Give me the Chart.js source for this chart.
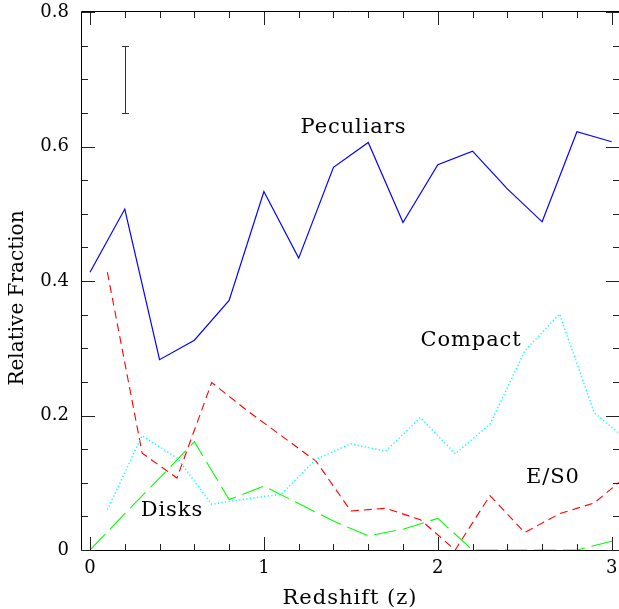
<!DOCTYPE html>
<html><head><meta charset="utf-8">
<script src="https://cdn.jsdelivr.net/npm/chart.js@4.4.0/dist/chart.umd.min.js"></script>
<style>html,body{margin:0;padding:0;background:#fff;} canvas{display:block;}</style>
</head><body>
<canvas id="c" width="619" height="609"></canvas>
<script>
// ---- data ----
const xEven = [0, 0.2, 0.4, 0.6, 0.8, 1.0, 1.2, 1.4, 1.6, 1.8, 2.0, 2.2, 2.4, 2.6, 2.8, 3.0];
const peculiars = [0.413, 0.507, 0.283, 0.312, 0.371, 0.533, 0.434, 0.569, 0.606, 0.487, 0.573, 0.593, 0.537, 0.488, 0.622, 0.607];

const xDisks = [0, 0.2, 0.4, 0.6, 0.8, 1.0, 1.2, 1.4, 1.6, 1.8, 2.0, 2.2, 2.4, 2.6, 2.8, 3.0, 3.1];
const disks = [0, 0.054, 0.107, 0.161, 0.075, 0.095, 0.069, 0.043, 0.021, 0.031, 0.047, 0, 0, 0, 0, 0.013, 0.02];

const xOdd = [0.1, 0.3, 0.5, 0.7, 0.9, 1.1, 1.3, 1.5, 1.7, 1.9, 2.1, 2.3, 2.5, 2.7, 2.9, 3.1];
const compact = [0.06, 0.17, 0.137, 0.068, 0.076, 0.083, 0.135, 0.158, 0.147, 0.197, 0.143, 0.187, 0.296, 0.351, 0.204, 0.161];
const es0 = [0.413, 0.144, 0.107, 0.249, 0.208, 0.17, 0.132, 0.058, 0.062, 0.045, 0.0, 0.081, 0.026, 0.054, 0.070, 0.113];

const errX = [0.2];
const errLo = [0.65];
const errHi = [0.75];

const xTicksMajor = [0, 1, 2, 3];
const xTicksMinor = [0.2, 0.4, 0.6, 0.8, 1.2, 1.4, 1.6, 1.8, 2.2, 2.4, 2.6, 2.8];
const yTicksMajor = [0, 0.2, 0.4, 0.6, 0.8];
const yTicksMinor = [0.05, 0.1, 0.15, 0.25, 0.3, 0.35, 0.45, 0.5, 0.55, 0.65, 0.7, 0.75];

const seriesNames = ['Peculiars', 'Compact', 'E/S0', 'Disks'];
const xTitle = 'Redshift (z)';
const yTitle = 'Relative Fraction';

// ---- styling / layout ----
const FONT = '"DejaVu Serif", serif';
const labelPos = [
  {x: 1.515, y: 0.620},
  {x: 2.191, y: 0.303},
  {x: 2.662, y: 0.0998},
  {x: 0.471, y: 0.050}
];

function pts(xs, ys) { return xs.map((x, i) => ({x: x, y: ys[i]})); }

const decor = {
  id: 'decor',
  afterDatasetsDraw(chart) {
    const {ctx, chartArea: a, scales: {x, y}} = chart;
    ctx.save();
    ctx.strokeStyle = '#000';
    ctx.lineWidth = 1;
    // frame (left, bottom, top)
    ctx.beginPath();
    ctx.moveTo(a.left - 0.5, a.top - 0.5);
    ctx.lineTo(a.right + 1, a.top - 0.5);
    ctx.moveTo(a.left - 0.5, a.top - 0.5);
    ctx.lineTo(a.left - 0.5, a.bottom + 0.5);
    ctx.lineTo(a.right + 1, a.bottom + 0.5);
    ctx.stroke();
    // inward ticks
    ctx.strokeStyle = '#222';
    ctx.beginPath();
    const xt = (v, len) => {
      const px = Math.round(x.getPixelForValue(v)) + 0.5;
      ctx.moveTo(px, a.bottom); ctx.lineTo(px, a.bottom - len);
      ctx.moveTo(px, a.top); ctx.lineTo(px, a.top + len);
    };
    const yt = (v, len) => {
      const py = Math.round(y.getPixelForValue(v)) + 0.5;
      ctx.moveTo(a.left, py); ctx.lineTo(a.left + len, py);
      ctx.moveTo(a.right, py); ctx.lineTo(a.right - len, py);
    };
    xTicksMajor.forEach(v => xt(v, 13));
    xTicksMinor.forEach(v => xt(v, 6));
    yTicksMajor.forEach(v => yt(v, 13));
    yTicksMinor.forEach(v => yt(v, 6));
    ctx.stroke();
    // error bar
    ctx.strokeStyle = '#333';
    ctx.beginPath();
    errX.forEach((ex, i) => {
      const px = Math.round(x.getPixelForValue(ex)) + 0.5;
      const p1 = Math.round(y.getPixelForValue(errLo[i])) + 0.5;
      const p2 = Math.round(y.getPixelForValue(errHi[i])) + 0.5;
      ctx.moveTo(px, p1); ctx.lineTo(px, p2);
      ctx.moveTo(px - 3.5, p1); ctx.lineTo(px + 3.5, p1);
      ctx.moveTo(px - 3.5, p2); ctx.lineTo(px + 3.5, p2);
    });
    ctx.stroke();
    // series labels
    ctx.fillStyle = '#000';
    ctx.font = '21px ' + FONT;
    ctx.letterSpacing = '0.9px';
    ctx.textAlign = 'center';
    ctx.textBaseline = 'alphabetic';
    seriesNames.forEach((t, i) => {
      ctx.fillText(t, x.getPixelForValue(labelPos[i].x), y.getPixelForValue(labelPos[i].y));
    });
    // axis titles
    ctx.letterSpacing = '1px';
    ctx.fillText(xTitle, 350, 604);
    ctx.font = '20px ' + FONT;
    ctx.letterSpacing = '0px';
    ctx.save();
    ctx.translate(23, 298);
    ctx.rotate(-Math.PI / 2);
    ctx.fillText(yTitle, 0, 0);
    ctx.restore();
    ctx.restore();
  }
};

new Chart(document.getElementById('c'), {
  type: 'line',
  data: {
    datasets: [
      {label: 'Peculiars', data: pts(xEven, peculiars), borderColor: '#0000ff', borderWidth: 1.2, pointRadius: 0, tension: 0, fill: false},
      {label: 'Compact', data: pts(xOdd, compact), borderColor: '#00ffff', borderWidth: 1.5, borderDash: [1.2, 2.4], pointRadius: 0, tension: 0, fill: false},
      {label: 'E/S0', data: pts(xOdd, es0), borderColor: '#ff0000', borderWidth: 1.1, borderDash: [8, 5], pointRadius: 0, tension: 0, fill: false},
      {label: 'Disks', data: pts(xDisks, disks), borderColor: '#00ff00', borderWidth: 1.1, borderDash: [22, 7], pointRadius: 0, tension: 0, fill: false}
    ]
  },
  options: {
    responsive: false,
    animation: false,
    devicePixelRatio: 1,
    layout: {padding: {top: 12, right: 0, left: 0, bottom: 0}},
    plugins: {legend: {display: false}, tooltip: {enabled: false}},
    scales: {
      x: {
        type: 'linear', min: -0.046, max: 3.042, position: 'bottom',
        grid: {display: false, drawTicks: false}, border: {display: false},
        ticks: {color: '#000', font: {family: FONT, size: 18}, padding: 8, maxRotation: 0, autoSkip: false,
                callback: v => String(v)},
        afterBuildTicks: s => { s.ticks = xTicksMajor.map(v => ({value: v})); },
        afterFit: s => { s.height = 59; s.paddingLeft = 0; s.paddingRight = 0; s.paddingTop = 0; s.paddingBottom = 0; }
      },
      y: {
        type: 'linear', min: 0, max: 0.8, position: 'left',
        grid: {display: false, drawTicks: false}, border: {display: false},
        ticks: {color: '#000', font: {family: FONT, size: 18}, padding: 13, autoSkip: false,
                callback: v => (v === 0 ? '0' : v.toFixed(1))},
        afterBuildTicks: s => { s.ticks = yTicksMajor.map(v => ({value: v})); },
        afterFit: s => { s.width = 82; s.paddingLeft = 0; s.paddingRight = 0; s.paddingTop = 0; s.paddingBottom = 0; }
      }
    }
  },
  plugins: [decor]
});
</script>
</body></html>
